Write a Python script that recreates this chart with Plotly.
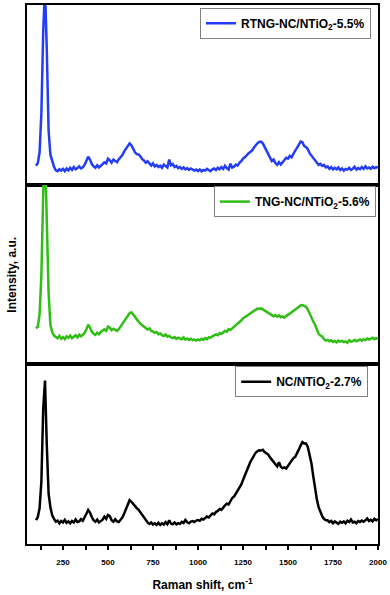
import plotly.graph_objects as go
from plotly.subplots import make_subplots

# Raman shift grid (cm-1), one point every 10 cm-1
raman_shift = list(range(100, 2010, 10))

# intensities (a.u., offset per panel)
rtng_nc = [
    10.5, 12, 18, 40, 85, 110, 75, 30, 16.7, 13,
    10, 8, 7.5, 8.6, 7.8, 8.8, 7.5, 9, 8, 9.4,
    8.2, 9.8, 8.5, 9.2, 10.2, 9, 9.6, 11, 13.5, 15.6,
    14, 11.5, 10.2, 9.4, 10.8, 9.6, 10.5, 11.6, 12.4, 11.8,
    14.5, 13.6, 12.2, 14, 13.2, 12.5, 14.2, 15.5, 16.5, 18.5,
    20, 22, 23, 22, 20, 18, 17, 16.8, 15.8, 14.2,
    13.5, 12.2, 13, 11.5, 10.6, 11.8, 10.2, 11, 9.8, 10.6,
    9.4, 11.2, 10.5, 9.6, 14, 10.8, 11.5, 9.8, 10.4, 9.2,
    9.8, 8.8, 9.6, 8.5, 9.2, 8.2, 9, 8.6, 7.8, 8.4,
    7.6, 8.5, 7.4, 8.2, 7.8, 8.8, 8, 7.5, 8.6, 9,
    8.2, 9.4, 8.6, 9.8, 8.8, 10.5, 9.2, 8.4, 11.7, 9.5,
    10, 11.2, 10.6, 12.2, 13, 14.5, 15.2, 16.5, 17.4, 18.2,
    19, 20.5, 22, 23, 23.8, 24, 23, 21, 18.5, 16.5,
    15, 13.2, 14, 12, 11, 12.5, 11.2, 12.4, 13.5, 15,
    14.5, 16, 15.2, 17.5, 19, 20.5, 22.5, 24, 23.6, 21.5,
    21, 19.8, 17.5, 16.2, 14.5, 13.2, 12.5, 11, 11.6, 10.4,
    11, 9.6, 10.2, 8.8, 9.8, 8.5, 9.4, 8.6, 9.6, 8.2,
    9, 7.8, 8.8, 8.4, 9.4, 8.2, 8.9, 10, 8.4, 9.2,
    8.6, 9.8, 8.8, 10.2, 9, 9.6, 8.8, 10, 9.2, 9.8,
    9.4,
]

tng_nc = [
    20, 21, 28, 50, 95, 120, 80, 40, 22, 18,
    16, 15, 14.5, 15.8, 14.2, 15.2, 14, 15.6, 14.8, 16,
    14.6, 15.4, 16.2, 15, 16.5, 15.6, 16.8, 17.5, 19.5, 22,
    20.5, 18.2, 17, 16.4, 17.6, 16.8, 18, 18.8, 19.5, 18.6,
    21, 20.4, 19, 19.8, 19.2, 18.6, 19.5, 21, 22.5, 23.5,
    25, 27, 28.5, 29, 28, 26.5, 25, 23.5, 22.6, 21.8,
    21, 20.5, 19.4, 20, 18.6, 18.2, 17.5, 18, 16.8, 17.2,
    16.2, 15.8, 16.6, 15.4, 15.8, 15, 14.6, 15.2, 14.2, 14.8,
    14.5, 14, 15, 13.8, 14.4, 13.6, 14.2, 13.5, 13.8, 13.2,
    13.9, 13.4, 14.2, 13.6, 14.6, 14, 15, 14.8, 15.6, 16.2,
    16.7, 16.2, 17.4, 17, 18, 18.6, 18.2, 19.5, 19.2, 20,
    21, 21.8, 22.5, 23.6, 24.4, 25.5, 26.2, 27, 27.8, 28.6,
    29.4, 30, 30.5, 31, 30.8, 31.2, 30.6, 30, 29.4, 28.6,
    28, 27.6, 26.8, 27.4, 26.5, 27.2, 26.2, 26.7, 26, 27,
    27.4, 28.2, 29, 29.6, 30.4, 31.2, 32, 32.8, 33, 32.6,
    32, 30.5, 28, 26, 24, 22, 19, 17, 16, 15.5,
    14, 13.2, 13.6, 12.8, 13.4, 12.5, 13, 12.2, 13.2, 12.6,
    13, 12.4, 12.8, 12, 13.4, 12.6, 12.9, 13.6, 12.8, 13.3,
    13.8, 13.2, 14, 13.5, 14.4, 13.8, 14.2, 14.8, 14, 14.6,
    14.2,
]

nc_ntio2 = [
    13.3, 15, 20, 35, 75, 91, 55, 28, 20.5, 16,
    14, 12.5, 13, 11.5, 12.8, 12, 13.5, 11.8, 12.6, 11.5,
    12.8, 12, 13.6, 12.2, 12.5, 13.8, 12.9, 14.5, 16.8, 18.9,
    17.5, 15, 13.2, 12.4, 13.6, 12, 12.8, 13.5, 15.2, 14,
    16.1, 15.5, 13.2, 12.4, 13.8, 12.6, 12.2, 13.4, 14.8, 17,
    19.5, 22.5, 24.4, 23.5, 22.2, 21, 20, 19, 17.5, 16,
    14.5, 13.3, 12, 11.2, 12, 10.8, 11.5, 10.6, 11.8, 10.6,
    11.5, 10.8, 12.2, 11, 13.2, 11.4, 11, 12, 10.9, 11.6,
    11.2, 12.3, 11.7, 13.4, 12.1, 11.6, 12.5, 12.8, 12.2, 13,
    13.3, 12.9, 14, 13.6, 14.5, 15.3, 14.8, 16.2, 17, 16.5,
    17.8, 18.4, 19.5, 19, 20.6, 21.5, 22.4, 22, 23.8, 25.6,
    26.4, 28, 29.5, 31.5, 33, 35.6, 37.8, 40.5, 43, 45.5,
    47.5, 49.4, 50.8, 51.6, 52.2, 52, 52.4, 51.2, 50.5, 49.8,
    48.2, 46.8, 45.3, 44, 43.2, 45.5, 43, 42.2, 42.6, 42,
    43.5, 45, 46.7, 47.8, 48.5, 50.2, 52.5, 54.8, 56.7, 56,
    56, 54, 50, 45, 38, 31, 25, 20.5, 17.5, 15.5,
    14, 13.2, 13.2, 12.2, 12.8, 11.5, 12.6, 12, 11.2, 12.4,
    11.8, 12.6, 11.5, 12.9, 12.2, 13.6, 12, 12.4, 11.6, 12.8,
    12.2, 13, 12.4, 13.2, 14.2, 12.8, 13.5, 12.6, 14, 13.2,
    13.8,
]

names = ['RTNG-NC/NTiO<sub>2</sub>-5.5%', 'TNG-NC/NTiO<sub>2</sub>-5.6%', 'NC/NTiO<sub>2</sub>-2.7%']
colors = ['#233cf5', '#2ebe14', '#000000']

FONT = 'Liberation Sans, Arial, sans-serif'

fig = make_subplots(rows=3, cols=1, shared_xaxes=True, vertical_spacing=0)

series = [rtng_nc, tng_nc, nc_ntio2]
legends = ['legend', 'legend2', 'legend3']
for i in range(3):
    fig.add_trace(
        go.Scatter(
            x=raman_shift, y=series[i], mode='lines',
            name='<b>' + names[i] + '</b>',
            line=dict(color=colors[i], width=2.5),
            legend=legends[i],
        ),
        row=i + 1, col=1
    )

leg_style = dict(
    bgcolor='white', bordercolor='#808080', borderwidth=1,
    font=dict(family=FONT, size=12, color='black'),
    xanchor='right', yanchor='top',
    tracegroupgap=0, itemwidth=30,
)
fig.update_layout(
    legend=dict(x=0.98, y=0.995, **leg_style),
    legend2=dict(x=0.994, y=0.664, **leg_style),
    legend3=dict(x=0.972, y=0.33, **leg_style),
)

fig.update_xaxes(
    range=[50, 2000], showline=True, linecolor='black', linewidth=1.5,
    mirror=True, showgrid=False, zeroline=False, ticks='',
)
fig.update_xaxes(
    row=3, col=1,
    ticks='outside', ticklen=4, tickwidth=1.5, tickcolor='black',
    tick0=0, dtick=250, ticklabelstandoff=6,
    minor=dict(dtick=125, ticks='outside', ticklen=4, tickwidth=1.5, tickcolor='black'),
    tickfont=dict(family=FONT, size=8, color='black', weight='bold'),
    title=dict(text='<b>Raman shift, cm<sup>-1</sup></b>',
               font=dict(family=FONT, size=12, color='black'), standoff=14),
)
fig.update_yaxes(
    range=[0, 100], showline=True, linecolor='black', linewidth=1.5,
    mirror=True, showgrid=False, zeroline=False, showticklabels=False, ticks='',
)

fig.add_annotation(
    text='<b>Intensity, a.u.</b>', textangle=-90,
    xref='paper', yref='paper', x=-0.045, y=0.5,
    xanchor='center', yanchor='middle',
    showarrow=False, font=dict(family=FONT, size=12, color='black'),
)

fig.update_layout(
    width=390, height=595,
    margin=dict(l=27, r=10, t=3, b=51),
    plot_bgcolor='white', paper_bgcolor='white',
    showlegend=True,
)

fig.write_html('out.html', config={'displayModeBar': False},
               post_script="document.body.style.margin='0';")
